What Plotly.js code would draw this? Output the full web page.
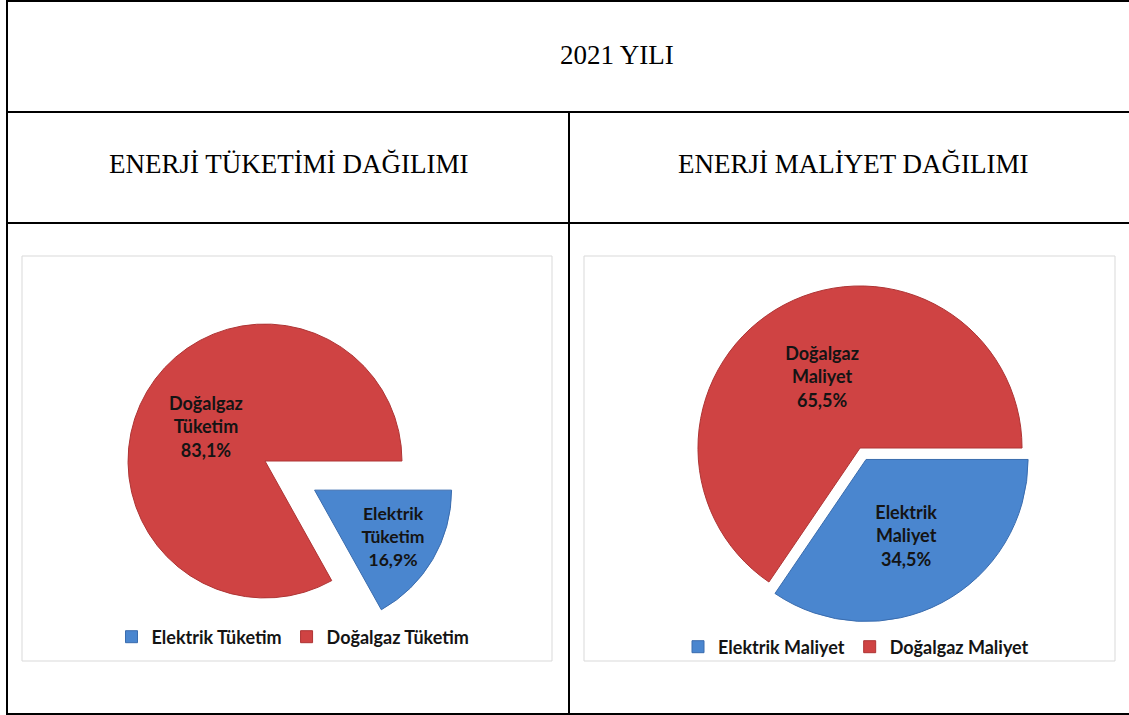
<!DOCTYPE html>
<html>
<head>
<meta charset="utf-8">
<script src="https://cdn.plot.ly/plotly-3.0.1.min.js"></script>
<style>
  html, body { margin: 0; padding: 0; background: #ffffff; }
  #chart { width: 1129px; height: 715px; }
</style>
</head>
<body>
<div id="chart"></div>
<script>
// ---- data ----
const mainTitle = "2021 YILI";
const leftTitle = "ENERJİ TÜKETİMİ DAĞILIMI";
const rightTitle = "ENERJİ MALİYET DAĞILIMI";

const consumptionLabels = ["Elektrik Tüketim", "Doğalgaz Tüketim"];
const consumptionValues = [16.9, 83.1];

const costLabels = ["Elektrik Maliyet", "Doğalgaz Maliyet"];
const costValues = [34.5, 65.5];

// ---- helpers (pixel -> paper) ----
const W = 1129, H = 715;
const X = px => px / W;
const Y = py => 1 - py / H;

const sliceColors = ["#4A86CF", "#CF4343"];
const sliceEdges = ["#3A6CAE", "#AE3434"];
const labelFont = { family: "Lato, 'Open Sans', sans-serif", size: 18, color: "#141414", weight: "bold" };

function wrapLabels(arr) { return arr.map(s => s.replace(" ", "<br>")); }

const leftPie = {
  type: "pie",
  labels: consumptionLabels,
  values: consumptionValues,
  text: wrapLabels(consumptionLabels),
  texttemplate: "%{text}<br>%{percent:.1%}",
  textposition: "inside",
  insidetextorientation: "horizontal",
  textfont: labelFont,
  sort: false,
  direction: "clockwise",
  rotation: 90,
  pull: [0.42, 0],
  marker: { colors: sliceColors, line: { width: 1, color: sliceEdges } },
  domain: { x: [X(70.5), X(459.5)], y: [Y(655.5), Y(266.5)] },
  hoverinfo: "label+percent",
  legend: "legend"
};

const rightPie = {
  type: "pie",
  labels: costLabels,
  values: costValues,
  text: wrapLabels(costLabels),
  texttemplate: "%{text}<br>%{percent:.1%}",
  textposition: "inside",
  insidetextorientation: "horizontal",
  textfont: labelFont,
  sort: false,
  direction: "clockwise",
  rotation: 90,
  pull: [0.08, 0],
  marker: { colors: sliceColors, line: { width: 1, color: sliceEdges } },
  domain: { x: [X(685), X(1035)], y: [Y(623), Y(273)] },
  hoverinfo: "label+percent",
  legend: "legend2"
};

function hline(y, x0, x1) {
  return { type: "line", xref: "paper", yref: "paper", x0: X(x0), x1: X(x1), y0: Y(y), y1: Y(y),
           line: { color: "#000000", width: 2 } };
}
function vline(x, y0, y1) {
  return { type: "line", xref: "paper", yref: "paper", x0: X(x), x1: X(x), y0: Y(y0), y1: Y(y1),
           line: { color: "#000000", width: 2 } };
}
function box(x0, y0, x1, y1) {
  return { type: "rect", xref: "paper", yref: "paper", x0: X(x0), x1: X(x1), y0: Y(y1), y1: Y(y0),
           line: { color: "#D9D9D9", width: 1 }, fillcolor: "rgba(0,0,0,0)", layer: "below" };
}

const serif = { family: "'Liberation Serif', 'Times New Roman', serif", size: 27, color: "#000000" };
const legendFont = { family: "Lato, 'Open Sans', sans-serif", size: 18, color: "#141414", weight: "bold" };

const layout = {
  width: W, height: H,
  margin: { l: 0, r: 0, t: 0, b: 0 },
  paper_bgcolor: "#ffffff",
  separators: ",.",
  showlegend: true,
  legend: { orientation: "h", x: X(293), xanchor: "center", y: Y(637), yanchor: "middle",
            font: legendFont, itemwidth: 30, bgcolor: "rgba(0,0,0,0)", traceorder: "normal" },
  legend2: { orientation: "h", x: X(856), xanchor: "center", y: Y(647), yanchor: "middle",
             font: legendFont, itemwidth: 30, bgcolor: "rgba(0,0,0,0)", traceorder: "normal" },
  shapes: [
    hline(1, 6, W), vline(7, 0, H), hline(112, 6, W), hline(223, 6, W),
    vline(569, 112, H), hline(714, 6, W),
    box(22, 256, 552, 661), box(584, 256, 1115, 661)
  ],
  annotations: [
    { text: mainTitle, xref: "paper", yref: "paper", x: X(617), y: Y(55), showarrow: false,
      xanchor: "center", yanchor: "middle", font: serif },
    { text: leftTitle, xref: "paper", yref: "paper", x: X(288), y: Y(164), showarrow: false,
      xanchor: "center", yanchor: "middle", font: serif },
    { text: rightTitle, xref: "paper", yref: "paper", x: X(853), y: Y(164), showarrow: false,
      xanchor: "center", yanchor: "middle", font: serif }
  ]
};

Plotly.newPlot("chart", [leftPie, rightPie], layout, { displayModeBar: false, staticPlot: true });
</script>
</body>
</html>
